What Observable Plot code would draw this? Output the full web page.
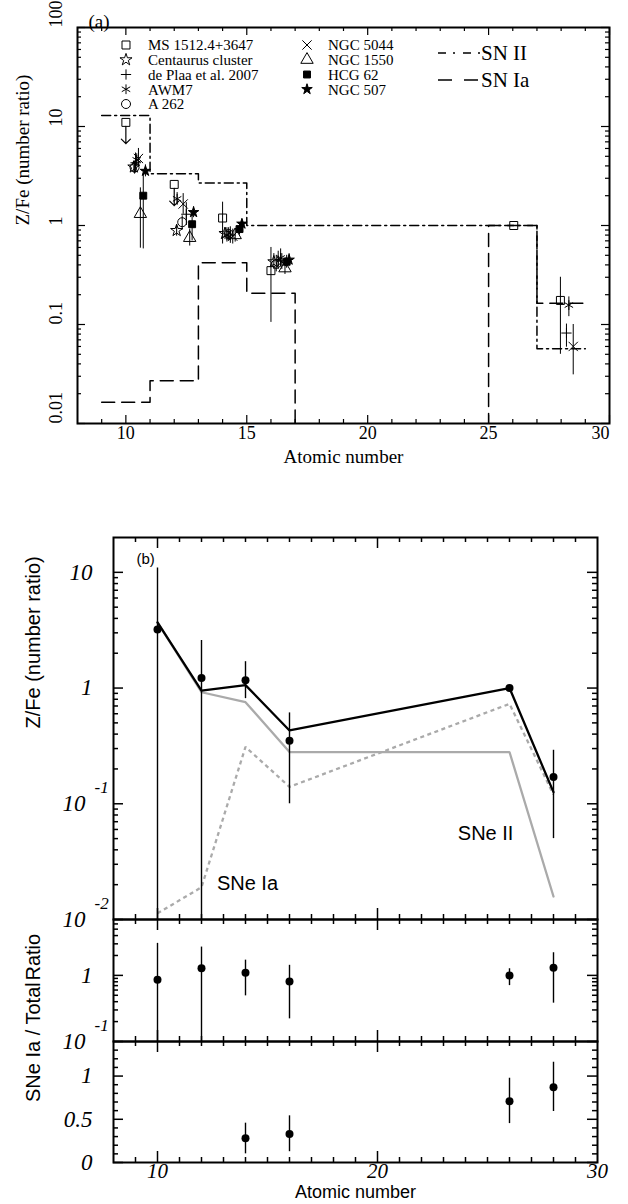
<!DOCTYPE html>
<html><head><meta charset="utf-8">
<script src="https://cdn.jsdelivr.net/npm/d3@7"></script>
<script src="https://cdn.jsdelivr.net/npm/@observablehq/plot@0.6"></script>
<style>
body{margin:0;background:#fff;}
#wrap{position:relative;width:628px;height:1204px;overflow:hidden;background:#fff;}
</style></head><body><div id="wrap"></div>
<script>
// ================= DATA: panel (a) =================
const sampleNames = ["MS 1512.4+3647","Centaurus cluster","de Plaa et al. 2007","AWM7","A 262","NGC 5044","NGC 1550","HCG 62","NGC 507"];

const msZ  = [10.0, 12.0, 14.0, 16.0, 26.04, 27.97];
const msV  = [11, 2.6, 1.19, 0.35, 1.0, 0.175];
const msLo = [null, null, 0.65, 0.105, null, 0.05];
const msHi = [null, null, 1.72, 0.60, null, 0.30];
const msLimit = [true, true, false, false, false, false];

const cenZ  = [10.33, 12.1, 14.1, 16.12];
const cenV  = [3.9, 0.89, 0.83, 0.43];
const cenLo = [3.4, 0.78, 0.72, 0.36];
const cenHi = [4.4, 1.0, 0.95, 0.52];

const dpZ  = [10.4, 12.5, 14.32, 16.3, 28.22];
const dpV  = [4.3, 1.3, 0.8, 0.44, 0.082];
const dpLo = [3.4, 1.0, 0.66, 0.36, 0.059];
const dpHi = [5.4, 1.7, 0.97, 0.55, 0.101];

const awmZ  = [10.45, 12.12, 14.18, 16.4, 28.32];
const awmV  = [4.6, 1.86, 0.8, 0.47, 0.157];
const awmLo = [3.9, 1.6, 0.68, 0.38, 0.12];
const awmHi = [5.3, 2.15, 0.95, 0.58, 0.19];

const a262Z  = [10.36, 12.33, 14.25, 16.22];
const a262V  = [3.85, 1.08, 0.82, 0.41];
const a262Lo = [3.3, 0.9, 0.7, 0.34];
const a262Hi = [4.4, 1.25, 0.95, 0.5];

const n5044Z  = [10.52, 12.37, 14.42, 16.45, 28.5];
const n5044V  = [4.75, 1.65, 0.78, 0.43, 0.06];
const n5044Lo = [3.9, 1.3, 0.65, 0.36, 0.031];
const n5044Hi = [6.0, 2.1, 0.92, 0.52, 0.1];

const n1550Z  = [10.6, 12.64, 14.52, 16.58];
const n1550V  = [1.31, 0.75, 0.8, 0.37];
const n1550Lo = [0.59, 0.62, 0.68, 0.32];
const n1550Hi = [2.4, 0.92, 0.93, 0.43];

const hcgZ  = [10.72, 12.74, 14.7, 16.65];
const hcgV  = [2.0, 1.03, 0.92, 0.43];
const hcgLo = [0.58, 0.7, 0.8, 0.37];
const hcgHi = [3.4, 1.4, 1.05, 0.5];

const n507Z  = [10.81, 12.8, 14.8, 16.75];
const n507V  = [3.55, 1.36, 1.04, 0.45];
const n507Lo = [3.1, 1.2, 0.95, 0.4];
const n507Hi = [4.1, 1.55, 1.15, 0.52];

// model step functions (edges in atomic number, level Z/Fe)
const snIIEdges  = [9, 11, 13, 15, 27, 29];
const snIILevels = [12.9, 3.33, 2.69, 1.0, 0.057, 0.057];
const snIaEdges  = [9, 11, 13, 15, 17, 25, 27, 29];
const snIaLevels = [0.0164, 0.027, 0.42, 0.207, 1e-4, 1.0, 0.164, 0.164]; // 1e-4 : negligible (below plot)

const xTicksA = [10, 15, 20, 25, 30];
const yTicksA = [0.01, 0.1, 1, 10, 100];
const yTickLabelsA = ["0.01", "0.1", "1", "10", "100"];

// ================= DATA: panel (b) =================
const elemZ   = [10, 12, 14, 16, 26, 28];
const obsB    = [3.2, 1.22, 1.17, 0.35, 1.0, 0.17];
const obsLoB  = [1e-3, 1e-3, 0.81, 0.1, 1.0, 0.05];   // 1e-3: bar runs off the bottom
const obsHiB  = [10.9, 2.57, 1.69, 0.61, 1.0, 0.29];
const totalB  = [3.69, 0.95, 1.06, 0.43, 1.0, 0.126];
const snIIB   = [3.69, 0.92, 0.755, 0.28, 0.28, 0.0158];
const snIaB   = [0.0113, 0.019, 0.31, 0.14, 0.73, 0.12];

const ratioB   = [0.86, 1.28, 1.1, 0.81, 1.0, 1.30];
const ratioLoB = [1e-3, 1e-3, 0.49, 0.22, 0.70, 0.38];  // 1e-3: bar runs off the bottom
const ratioHiB = [3.05, 2.68, 1.70, 1.42, 1.26, 2.2];

const fracZ  = [14, 16, 26, 28];
const fracB  = [0.28, 0.33, 0.71, 0.87];
const fracLo = [0.10, 0.125, 0.45, 0.59];
const fracHi = [0.455, 0.54, 0.975, 1.16];

const xTicksB = [10, 20, 30];
const b1Labels = [{v: 10, base: "10", exp: ""}, {v: 1, base: "1", exp: ""}, {v: 0.1, base: "10", exp: "-1"}, {v: 0.01, base: "10", exp: "-2"}];
const b2Labels = [{v: 1, base: "1", exp: ""}, {v: 0.1, base: "10", exp: "-1"}];
const b3Labels = [{v: 1, base: "1", exp: ""}, {v: 0.5, base: "0.5", exp: ""}, {v: 0, base: "0", exp: ""}];
const annotations = [{text: "SNe Ia", z: 12.7, v: 0.0205}, {text: "SNe II", z: 23.65, v: 0.0553}];

// ================= helpers =================
const SERIF = "Liberation Serif, Times New Roman, serif";
const SANS = "Liberation Sans, Arial, Helvetica, sans-serif";
const W = 628;

function ticksX(vals, len, fh, sides, sw) {
  const m = [];
  if (sides.includes("bottom")) m.push(Plot.tickX(vals, {x: d => d, insetTop: fh - len, stroke: "black", strokeWidth: sw}));
  if (sides.includes("top")) m.push(Plot.tickX(vals, {x: d => d, insetBottom: fh - len, stroke: "black", strokeWidth: sw}));
  return m;
}
function ticksY(vals, len, fw, sw) {
  return [
    Plot.tickY(vals, {y: d => d, insetRight: fw - len, stroke: "black", strokeWidth: sw}),
    Plot.tickY(vals, {y: d => d, insetLeft: fw - len, stroke: "black", strokeWidth: sw})
  ];
}
function logMinor(e0, e1, lo, hi) {
  const out = [];
  for (let e = e0; e < e1; e++) for (let m = 2; m <= 9; m++) { const v = m * Math.pow(10, e); if (v > lo && v < hi) out.push(v); }
  return out;
}
const wrap = document.getElementById("wrap");
function place(svg, top) {
  svg.style.position = "absolute"; svg.style.top = top + "px"; svg.style.left = "0px";
  svg.style.overflow = "visible"; svg.style.background = "transparent"; svg.style.maxWidth = "none";
  wrap.appendChild(svg);
}

// ================= panel (a) =================
const sampleStyles = [
  {symbol: "square", filled: false, r: 4.5, d3s: d3.symbolSquare},
  {symbol: "star", filled: false, r: 3.8, d3s: d3.symbolStar},
  {symbol: "plus", filled: false, r: 3.4, d3s: d3.symbolPlus},
  {symbol: "asterisk", filled: false, r: 4.6, d3s: d3.symbolAsterisk},
  {symbol: "circle", filled: false, r: 4.5, d3s: d3.symbolCircle},
  {symbol: "times", filled: false, r: 4.3, d3s: d3.symbolTimes},
  {symbol: "triangle", filled: false, r: 4.6, d3s: d3.symbolTriangle},
  {symbol: "square", filled: true, r: 3.9, d3s: d3.symbolSquare},
  {symbol: "star", filled: true, r: 3.3, d3s: d3.symbolStar}
];
const sampleData = [
  [msZ, msV, msLo, msHi, msLimit],
  [cenZ, cenV, cenLo, cenHi],
  [dpZ, dpV, dpLo, dpHi],
  [awmZ, awmV, awmLo, awmHi],
  [a262Z, a262V, a262Lo, a262Hi],
  [n5044Z, n5044V, n5044Lo, n5044Hi],
  [n1550Z, n1550V, n1550Lo, n1550Hi],
  [hcgZ, hcgV, hcgLo, hcgHi],
  [n507Z, n507V, n507Lo, n507Hi]
];
const rowsA = [];
sampleData.forEach(([Z, V, Lo, Hi, Lim], s) => {
  Z.forEach((z, i) => rowsA.push({s, z, v: V[i], lo: Lo[i], hi: Hi[i], limit: Lim ? Lim[i] : false}));
});
const snII = snIIEdges.map((z, i) => ({z, v: snIILevels[i]}));
const snIa = snIaEdges.map((z, i) => ({z, v: snIaLevels[i]}));

const FH_A = 396, FW_A = 532;
const dotMarks = sampleStyles.map((st, s) => Plot.dot(rowsA.filter(d => d.s === s), {
  x: "z", y: "v", symbol: st.symbol, r: st.r,
  fill: st.filled ? "black" : "none", stroke: "black", strokeWidth: 1
}));

function legendA() {
  return () => {
    const g = d3.create("svg:g");
    sampleNames.forEach((name, i) => {
      const col = i < 5 ? 0 : 1, row = i < 5 ? i : i - 5;
      const sx = col ? 307 : 126, tx = col ? 328 : 148, y = 45 + row * 14.75;
      const st = sampleStyles[i];
      g.append("path").attr("transform", `translate(${sx},${y})`)
        .attr("d", d3.symbol(st.d3s, Math.PI * st.r * st.r)())
        .attr("fill", st.filled ? "black" : "none").attr("stroke", "black").attr("stroke-width", 1);
      g.append("text").attr("x", tx).attr("y", y).attr("dy", "0.35em").attr("text-anchor", "start")
        .attr("font-family", SERIF).attr("font-size", 15).attr("fill", "black").text(name);
    });
    [["SN II", 53, "8,7,2,8"], ["SN Ia", 80, "14,12"]].forEach(([t, y, da]) => {
      g.append("line").attr("x1", 438).attr("x2", 481).attr("y1", y).attr("y2", y)
        .attr("stroke", "black").attr("stroke-width", 1.6).attr("stroke-dasharray", da);
      g.append("text").attr("x", 481).attr("y", y).attr("dy", "0.35em").attr("text-anchor", "start")
        .attr("font-family", SERIF).attr("font-size", 21).attr("fill", "black").text(t);
    });
    return g.node();
  };
}

const plotA = Plot.plot({
  width: W, height: 470,
  marginLeft: 77, marginRight: 19, marginTop: 27, marginBottom: 47,
  x: {domain: [8, 30], axis: null},
  y: {type: "log", domain: [0.01, 100], axis: null},
  marks: [
    Plot.line(snIa, {x: "z", y: "v", curve: "step-after", stroke: "black", strokeWidth: 1.5, strokeDasharray: "13,7", clip: true}),
    Plot.line(snII, {x: "z", y: "v", curve: "step-after", stroke: "black", strokeWidth: 1.5, strokeDasharray: "9,4,2,4", clip: true}),
    Plot.ruleX(rowsA.filter(d => d.lo != null), {x: "z", y1: "lo", y2: "hi", stroke: "black", strokeWidth: 1}),
    Plot.arrow(rowsA.filter(d => d.limit), {x1: "z", x2: "z", y1: "v", y2: d => d.v * 0.61, stroke: "black", strokeWidth: 1.2, headLength: 8, headAngle: 90, insetStart: 4}),
    ...dotMarks,
    Plot.frame({stroke: "black", strokeWidth: 2}),
    ...ticksX(d3.range(9, 30).filter(v => v % 5 !== 0), 4, FH_A, ["bottom", "top"], 1.2),
    ...ticksX(xTicksA, 8, FH_A, ["bottom", "top"], 1.2),
    ...ticksY(logMinor(-2, 2, 0.01, 100), 4, FW_A, 1.2),
    ...ticksY(yTicksA, 8, FW_A, 1.2),
    Plot.text(xTicksA.slice(0, 4), {x: d => d, text: d => String(d), frameAnchor: "bottom", dy: 15, fontFamily: SERIF, fontSize: 18, fill: "black"}),
    Plot.text(xTicksA.slice(4), {x: d => d, text: d => String(d), frameAnchor: "bottom", dy: 15, dx: -9, fontFamily: SERIF, fontSize: 18, fill: "black"}),
    Plot.text(yTicksA, {y: d => d, text: (d, i) => yTickLabelsA[i], frameAnchor: "left", dx: -21, rotate: -90, fontFamily: SERIF, fontSize: 18, fill: "black"}),
    Plot.text(["Atomic number"], {frameAnchor: "bottom", dy: 39, fontFamily: SERIF, fontSize: 19, fill: "black"}),
    Plot.text(["Z/Fe (number ratio)"], {frameAnchor: "left", dx: -55, rotate: -90, fontFamily: SERIF, fontSize: 19, fill: "black"}),
    Plot.text(["(a)"], {frameAnchor: "top-left", dx: 11, dy: -13, fontFamily: SERIF, fontSize: 19, fill: "black"}),
    legendA()
  ]
});
place(plotA, 0);

// ================= panel (b) =================
const FW_B = 484;
const rowsB = elemZ.map((z, i) => ({z, obs: obsB[i], lo: obsLoB[i], hi: obsHiB[i], total: totalB[i], snII: snIIB[i], snIa: snIaB[i]}));
const rowsR = elemZ.map((z, i) => ({z, r: ratioB[i], lo: ratioLoB[i], hi: ratioHiB[i]}));
const rowsF = fracZ.map((z, i) => ({z, f: fracB[i], lo: fracLo[i], hi: fracHi[i]}));
const xMinorB = d3.range(9, 30).filter(v => v % 10 !== 0);
const xMajorB = [10, 20];

function yLabelMarks(labels) {
  const plain = labels.filter(d => d.exp === "");
  const withExp = labels.filter(d => d.exp !== "");
  const common = {frameAnchor: "left", fontFamily: SERIF, fontStyle: "italic", fill: "black"};
  return [
    Plot.text(plain, {...common, y: "v", text: "base", textAnchor: "end", dx: -21, fontSize: 23}),
    Plot.text(withExp, {...common, y: "v", text: "base", textAnchor: "end", dx: -28, fontSize: 23}),
    Plot.text(withExp, {...common, y: "v", text: "exp", textAnchor: "start", dx: -19, dy: -16, fontSize: 17})
  ];
}
function xTickMarksB(fh, sides) {
  return [...ticksX(xMinorB, 5, fh, sides, 1.5), ...ticksX(xMajorB, 11, fh, sides, 1.5)];
}
function yTitle(t) {
  return Plot.text([t], {frameAnchor: "left", dx: -80, rotate: -90, fontFamily: SANS, fontSize: 20, fill: "black"});
}

// b1
const FH_B1 = 382;
const plotB1 = Plot.plot({
  width: W, height: 419,
  marginLeft: 113, marginRight: 31, marginTop: 37, marginBottom: 0,
  x: {domain: [8, 30], axis: null},
  y: {type: "log", domain: [0.01, 20], axis: null},
  marks: [
    Plot.line(rowsB, {x: "z", y: "snIa", stroke: "#aaaaaa", strokeWidth: 2.3, strokeDasharray: "4,3.5", strokeLinejoin: "miter", strokeLinecap: "butt"}),
    Plot.line(rowsB, {x: "z", y: "snII", stroke: "#aaaaaa", strokeWidth: 2.3, strokeLinejoin: "miter"}),
    Plot.line(rowsB, {x: "z", y: "total", stroke: "black", strokeWidth: 2.3, strokeLinejoin: "miter"}),
    Plot.ruleX(rowsB.filter(d => d.hi > d.lo), {x: "z", y1: "lo", y2: "hi", stroke: "black", strokeWidth: 1.4, clip: true}),
    Plot.dot(rowsB, {x: "z", y: "obs", r: 4, fill: "black"}),
    Plot.frame({stroke: "black", strokeWidth: 2}),
    ...xTickMarksB(FH_B1, ["top", "bottom"]),
    ...ticksY(logMinor(-2, 2, 0.01, 20), 5, FW_B, 1.5),
    ...ticksY([0.01, 0.1, 1, 10], 10, FW_B, 1.5),
    ...yLabelMarks(b1Labels),
    Plot.text(annotations, {x: "z", y: "v", text: "text", textAnchor: "start", fontFamily: SANS, fontSize: 20, fill: "black"}),
    Plot.text(["(b)"], {frameAnchor: "top-left", dx: 23, dy: 16, fontFamily: SANS, fontSize: 15, fill: "black"}),
    yTitle("Z/Fe (number ratio)")
  ]
});
place(plotB1, 500);

// b2
const FH_B2 = 122;
const plotB2 = Plot.plot({
  width: W, height: 122,
  marginLeft: 113, marginRight: 31, marginTop: 0, marginBottom: 0,
  x: {domain: [8, 30], axis: null},
  y: {type: "log", domain: [0.1, 7], axis: null},
  marks: [
    Plot.ruleX(rowsR, {x: "z", y1: "lo", y2: "hi", stroke: "black", strokeWidth: 1.4, clip: true}),
    Plot.dot(rowsR, {x: "z", y: "r", r: 4, fill: "black"}),
    Plot.frame({stroke: "black", strokeWidth: 2}),
    ...xTickMarksB(FH_B2, ["top", "bottom"]),
    ...ticksY(logMinor(-1, 1, 0.1, 7), 5, FW_B, 1.5),
    ...ticksY([0.1, 1], 10, FW_B, 1.5),
    ...yLabelMarks(b2Labels),
    yTitle("Ratio")
  ]
});
place(plotB2, 919);

// b3
const FH_B3 = 121;
const plotB3 = Plot.plot({
  width: W, height: 163,
  marginLeft: 113, marginRight: 31, marginTop: 0, marginBottom: 42,
  x: {domain: [8, 30], axis: null},
  y: {domain: [0, 1.4], axis: null},
  marks: [
    Plot.ruleX(rowsF, {x: "z", y1: "lo", y2: "hi", stroke: "black", strokeWidth: 1.4, clip: true}),
    Plot.dot(rowsF, {x: "z", y: "f", r: 4, fill: "black"}),
    Plot.frame({stroke: "black", strokeWidth: 2}),
    ...xTickMarksB(FH_B3, ["top", "bottom"]),
    ...ticksY(d3.range(1, 14).map(k => k / 10).filter(v => Math.abs(v - 0.5) > 1e-9 && Math.abs(v - 1) > 1e-9), 5, FW_B, 1.5),
    ...ticksY([0, 0.5, 1], 10, FW_B, 1.5),
    ...yLabelMarks(b3Labels),
    Plot.text(xTicksB, {x: d => d, text: d => String(d), frameAnchor: "bottom", dy: 15, fontFamily: SERIF, fontStyle: "italic", fontSize: 21, fill: "black"}),
    Plot.text(["Atomic number"], {frameAnchor: "bottom", dy: 35, fontFamily: SANS, fontSize: 18, fill: "black"}),
    yTitle("SNe Ia / Total")
  ]
});
place(plotB3, 1041);
</script></body></html>
